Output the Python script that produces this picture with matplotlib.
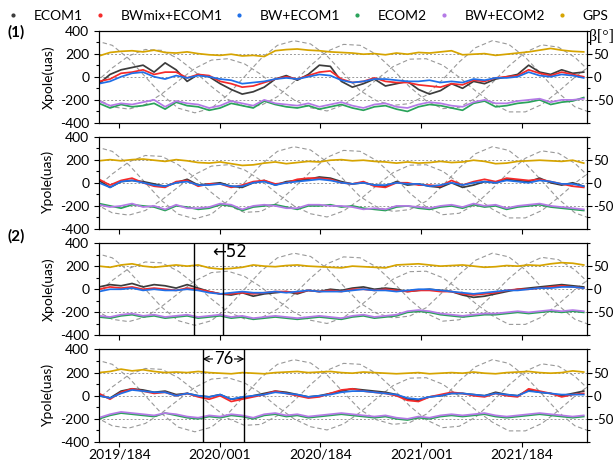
import matplotlib
matplotlib.use("Agg")
import matplotlib.pyplot as plt
from matplotlib.lines import Line2D
from matplotlib.ticker import MultipleLocator
import numpy as np

plt.rcParams['font.family'] = ['Lato', 'DejaVu Sans']
plt.rcParams['font.size'] = 10
plt.rcParams['axes.unicode_minus'] = False

# day index since 2019/001 (0-based), 20-day sampling
days = np.arange(146, 1027, 20)

# ---- panel (1) Xpole
x1_ecom1 = [-60, 20, 60, 80, 100, 40, 120, 60, -40, 20, 0, -60, -110, -150, -130, -90, -20, 10, -30, 20,
            100, 90, -40, -90, -60, -20, -80, -60, -40, -110, -150, -120, -60, -100, -40, -60, -20, 0, 20, 100,
            40, 20, 60, 30, 40]
x1_bwmix = [-40, -20, 30, 40, 60, 20, 40, 40, -10, 20, 10, -40, -60, -90, -80, -50, -20, 0, -20, 10,
            40, 50, -20, -50, -40, -10, -40, -50, -50, -70, -80, -90, -60, -70, -30, -40, -10, 0, 10, 60,
            30, 10, 40, 20, 0]
x1_bw = [-60, -40, 0, 30, 40, 0, -20, 10, -10, 10, 0, -20, -30, -60, -50, -40, -20, -10, -20, 0,
         20, 10, -30, -50, -40, -20, -20, -30, -40, -40, -30, -50, -40, -50, -20, -30, -10, -10, 0, 40,
         10, 0, 20, 10, -10]
x1_ecom2 = [-230, -270, -240, -260, -250, -230, -280, -220, -250, -260, -290, -270, -230, -250, -270, -210,
            -240, -260, -270, -250, -280, -260, -240, -270, -290, -260, -250, -280, -300, -260, -240, -250,
            -270, -290, -230, -210, -260, -250, -230, -220, -200, -240, -220, -210, -180]
x1_bwecom2 = [-210, -250, -230, -240, -220, -200, -260, -210, -230, -240, -270, -250, -210, -230, -250, -200,
              -230, -240, -250, -230, -260, -240, -220, -250, -270, -240, -230, -260, -270, -240, -220, -230,
              -250, -260, -220, -200, -230, -230, -210, -200, -190, -220, -200, -200, -190]
x1_gps = [180, 210, 220, 225, 215, 230, 210, 205, 215, 200, 190, 185, 195, 180, 185, 175, 225, 235, 240, 230,
          225, 215, 210, 205, 195, 200, 190, 205, 195, 210, 205, 215, 225, 190, 195, 200, 185, 195, 205, 215,
          230, 245, 230, 220, 215]

# ---- panel (1) Ypole
y1_ecom1 = [20, -40, 10, 20, 10, -10, -30, 0, 30, -20, -10, 0, -30, -40, 0, 20, -20, 10, 20, 30,
            50, 40, 10, -10, 0, -20, -30, 10, -20, -10, -30, -40, 0, -40, -20, 10, 0, 30, 20, 10,
            40, 0, -20, 0, -30]
y1_bwmix = [30, -20, 20, 40, 0, -30, -40, 10, 20, -30, -10, -10, -40, -20, 10, 20, -10, 0, 30, 40,
            40, 30, 0, -10, 10, -30, -40, 0, 0, -20, -20, -30, 20, -20, 10, 30, 10, 40, 30, 20,
            30, 10, -10, -30, -40]
y1_bw = [0, -40, 10, 20, 0, -20, -30, 0, 10, -20, -20, -10, -30, -30, 0, 10, -20, 0, 10, 20,
         30, 20, 0, -10, 0, -20, -20, 0, -10, -10, -30, -20, 0, -20, 0, 10, 0, 20, 10, 0,
         20, 10, -10, -10, -30]
y1_ecom2 = [-180, -200, -220, -190, -200, -210, -240, -200, -210, -230, -220, -190, -200, -240, -210, -200,
            -190, -210, -230, -200, -200, -190, -210, -200, -220, -230, -240, -210, -200, -220, -230, -210,
            -200, -220, -190, -210, -200, -230, -210, -200, -190, -210, -220, -230, -240]
y1_bwecom2 = [-190, -210, -200, -180, -210, -200, -230, -190, -220, -220, -210, -180, -190, -230, -200, -190,
              -200, -220, -220, -190, -190, -200, -200, -210, -230, -220, -230, -200, -200, -210, -220, -200,
              -190, -210, -180, -200, -190, -220, -200, -190, -180, -200, -210, -220, -230]
y1_gps = [190, 200, 190, 200, 205, 195, 185, 200, 190, 175, 170, 180, 165, 150, 155, 170, 180, 165, 175, 185,
          180, 195, 200, 190, 195, 185, 180, 170, 180, 170, 175, 185, 175, 180, 195, 185, 165, 170, 185, 190,
          195, 190, 185, 195, 170]

# ---- panel (2) Xpole
x2_ecom1 = [20, 40, 30, 50, 20, 40, 30, 10, 40, 10, -20, -40, -50, -30, -60, -40, -30, -20, -40, -10,
            -20, 0, -10, 10, 20, 0, 10, 0, -20, -10, 0, -10, -20, -50, -70, -60, -40, -20, 0, 10,
            20, 30, 40, 30, 20]
x2_bwmix = [0, 20, 10, 20, 0, 10, 0, -10, 10, 0, -20, -40, -40, -30, -40, -30, -20, -20, -30, -10,
            -20, -10, -20, 0, 0, -10, 0, -10, -20, -10, -10, -20, -20, -40, -50, -40, -30, -10, 0, 0,
            10, 20, 30, 20, 10]
x2_bw = [-20, 0, 0, 10, -10, 0, -10, -10, 0, -10, -30, -40, -30, -20, -30, -30, -20, -30, -20, -10,
         -20, -20, -20, -10, 0, -10, -10, -20, -10, 0, 0, -10, -20, -30, -40, -30, -20, -10, -10, 0,
         10, 10, 20, 20, 10]
x2_ecom2 = [-240, -250, -230, -220, -240, -230, -250, -240, -230, -250, -240, -230, -250, -240, -260, -250,
            -240, -250, -260, -250, -240, -250, -260, -240, -230, -250, -240, -230, -200, -190, -200, -220,
            -230, -240, -230, -220, -220, -210, -200, -210, -200, -190, -200, -190, -200]
x2_bwecom2 = [-230, -240, -220, -210, -230, -220, -240, -230, -220, -240, -230, -220, -240, -230, -250, -240,
              -230, -240, -250, -240, -230, -240, -250, -230, -220, -240, -230, -220, -190, -180, -190, -210,
              -220, -230, -220, -210, -210, -200, -190, -200, -190, -180, -190, -180, -190]
x2_gps = [200, 190, 210, 220, 200, 190, 200, 210, 200, 210, 185, 175, 180, 190, 210, 200, 195, 205, 210, 200,
          195, 190, 185, 200, 195, 190, 185, 210, 215, 220, 210, 200, 205, 210, 200, 190, 195, 205, 200, 210,
          205, 220, 230, 225, 210]

# ---- panel (2) Ypole
y2_ecom1 = [0, -20, 40, 60, 50, 30, 40, 10, 20, 0, -10, 10, -30, -20, 0, 20, 40, 30, 10, -10,
            0, 20, 40, 60, 50, 40, 30, 10, -30, -40, -10, 0, 20, 20, 10, 0, 30, 10, 0, 50,
            30, 20, 0, 20, 40]
y2_bwmix = [20, -30, 30, 60, 40, 20, 30, 0, 20, -10, -30, 0, -50, -30, -10, 10, 40, 20, 0, -20,
            -10, 20, 50, 60, 40, 30, 20, 0, -40, -50, -10, 10, 30, 20, 0, -10, 20, 0, -10, 60,
            40, 20, -10, 10, 20]
y2_bw = [0, -20, 20, 50, 40, 30, 30, 0, 20, 0, -10, 10, -30, -10, 0, 10, 30, 20, 10, -10,
         0, 10, 30, 40, 40, 30, 20, 10, -20, -30, -10, 0, 20, 20, 10, 0, 20, 10, 0, 40,
         30, 20, 10, 10, 10]
y2_ecom2 = [-200, -170, -150, -160, -170, -180, -150, -170, -190, -200, -180, -190, -170, -180, -200, -170,
            -160, -180, -170, -190, -180, -170, -160, -170, -180, -190, -180, -200, -210, -190, -200, -180,
            -170, -180, -170, -160, -180, -190, -180, -170, -160, -170, -180, -190, -180]
y2_bwecom2 = [-190, -160, -140, -150, -160, -170, -150, -160, -180, -190, -170, -180, -160, -170, -190, -160,
              -150, -170, -160, -180, -170, -160, -150, -160, -170, -180, -170, -190, -200, -180, -190, -170,
              -160, -170, -160, -150, -170, -180, -170, -160, -150, -160, -170, -180, -170]
y2_gps = [200, 210, 230, 215, 225, 210, 200, 205, 200, 210, 200, 195, 190, 200, 195, 190, 200, 205, 210, 200,
          205, 210, 200, 195, 205, 200, 195, 190, 195, 200, 190, 195, 200, 195, 205, 195, 190, 200, 205, 210,
          200, 195, 200, 215, 205]

# beta angles of three orbit planes (deg), 30-day sampling
beta_days = np.arange(140, 1041, 30)
beta_a = [-12, 19, 45, 59, 57, 39, 11, -21, -49, -64, -62, -43, -11, 24, 55, 70, 68, 48, 15, -22,
          -52, -69, -66, -46, -13, 23, 53, 69, 64, 42, 8]
beta_b = [78, 68, 39, 0, -39, -68, -78, -68, -39, 0, 39, 68, 78, 71, 45, 7, -30, -52, -62, -58,
          -40, -6, 32, 63, 78, 70, 42, 4, -35, -65, -78]
beta_c = [-46, -65, -70, -60, -37, -9, 18, 36, 39, 28, 5, -24, -50, -67, -74, -61, -36, -6, 22, 38,
          39, 25, -1, -31, -57, -76, -76, -60, -32, -1, 26]

names = ['ECOM1', 'BWmix+ECOM1', 'BW+ECOM1', 'ECOM2', 'BW+ECOM2', 'GPS']
colors = ['#3c3c3c', '#f52a2a', '#1f6fe8', '#2aa35a', '#b47ae6', '#d6a400']

tick_pos = [183, 365, 548, 731, 914]
tick_lab = ['2019/184', '2020/001', '2020/184', '2021/001', '2021/184']

panels = [
    ('Xpole(uas)', [x1_ecom1, x1_bwmix, x1_bw, x1_ecom2, x1_bwecom2, x1_gps]),
    ('Ypole(uas)', [y1_ecom1, y1_bwmix, y1_bw, y1_ecom2, y1_bwecom2, y1_gps]),
    ('Xpole(uas)', [x2_ecom1, x2_bwmix, x2_bw, x2_ecom2, x2_bwecom2, x2_gps]),
    ('Ypole(uas)', [y2_ecom1, y2_bwmix, y2_bw, y2_ecom2, y2_bwecom2, y2_gps]),
]

fig = plt.figure(figsize=(6.15, 4.65), dpi=100)
bottoms = [0.7355, 0.5075, 0.2785, 0.0495]
axes = []
for i, (ylab, series) in enumerate(panels):
    ax = fig.add_axes([0.161, bottoms[i], 0.7935, 0.1989])
    ax2 = ax.twinx()
    for b in (beta_a, beta_b, beta_c):
        ax2.plot(beta_days, b, ls=(0, (4, 2.5)), color='#999999', lw=0.8)
    ax2.set_ylim(-100, 100)
    ax2.set_yticks([-50, 0, 50])
    ax2.yaxis.set_minor_locator(MultipleLocator(25))
    ax2.grid(axis='y', ls=(0, (2, 2)), color='#9a9a9a', lw=0.7)
    ax.set_zorder(ax2.get_zorder() + 1)
    ax.patch.set_visible(False)

    for vals, c in zip(series, colors):
        ax.plot(days, vals, color=c, lw=1.25)

    ax.set_xlim(146, 1032)
    ax.set_ylim(-400, 400)
    ax.set_yticks([-400, -200, 0, 200, 400])
    ax.yaxis.set_minor_locator(MultipleLocator(100))
    ax.set_xticks(tick_pos)
    if i == 3:
        ax.set_xticklabels(tick_lab)
    else:
        ax.set_xticklabels([])
    ax.set_ylabel(ylab, labelpad=4)
    for a in (ax, ax2):
        a.tick_params(which='both', direction='out', length=3.5, width=0.8)
        a.tick_params(which='minor', length=2.5)
    ax.tick_params(axis='x', pad=1.5)
    ax2.tick_params(axis='y', which='major', labelsize=9.5, pad=1.2)
    axes.append(ax)

# event markers in the second group
axes[2].axvline(319, color='black', lw=1)
axes[2].axvline(371, color='black', lw=1)
axes[2].text(351, 318, '\u219052', fontsize=12, va='center', ha='left',
             family=['DejaVu Sans'])
axes[3].axvline(334, color='black', lw=1)
axes[3].axvline(410, color='black', lw=1)
axes[3].annotate('', xy=(334, 318), xytext=(410, 318),
                 arrowprops=dict(arrowstyle='<->', lw=0.8, color='black', shrinkA=0, shrinkB=0))
axes[3].text(372, 318, '76', fontsize=12, va='center', ha='center',
             bbox=dict(facecolor='white', edgecolor='none', pad=0.5))

fig.text(0.012, 1 - 32 / 465, '(1)', fontweight='bold', fontsize=11, va='center')
fig.text(0.012, 1 - 236 / 465, '(2)', fontweight='bold', fontsize=11, va='center')
fig.text(589 / 615, 1 - 37 / 465, '\u03b2[\u00b0]', fontsize=11.5, va='center', ha='left',
         family=['Liberation Serif', 'DejaVu Serif'])

handles = [Line2D([], [], ls='none', marker='.', ms=4, color=c) for c in colors]
fig.legend(handles, names, loc='upper left', bbox_to_anchor=(6 / 615, 1 - 10 / 465), ncol=6,
           frameon=False, borderpad=0, borderaxespad=0, handlelength=1.0, handletextpad=1.0,
           columnspacing=0.7, fontsize=10)

fig.savefig('out.png', dpi=100)
